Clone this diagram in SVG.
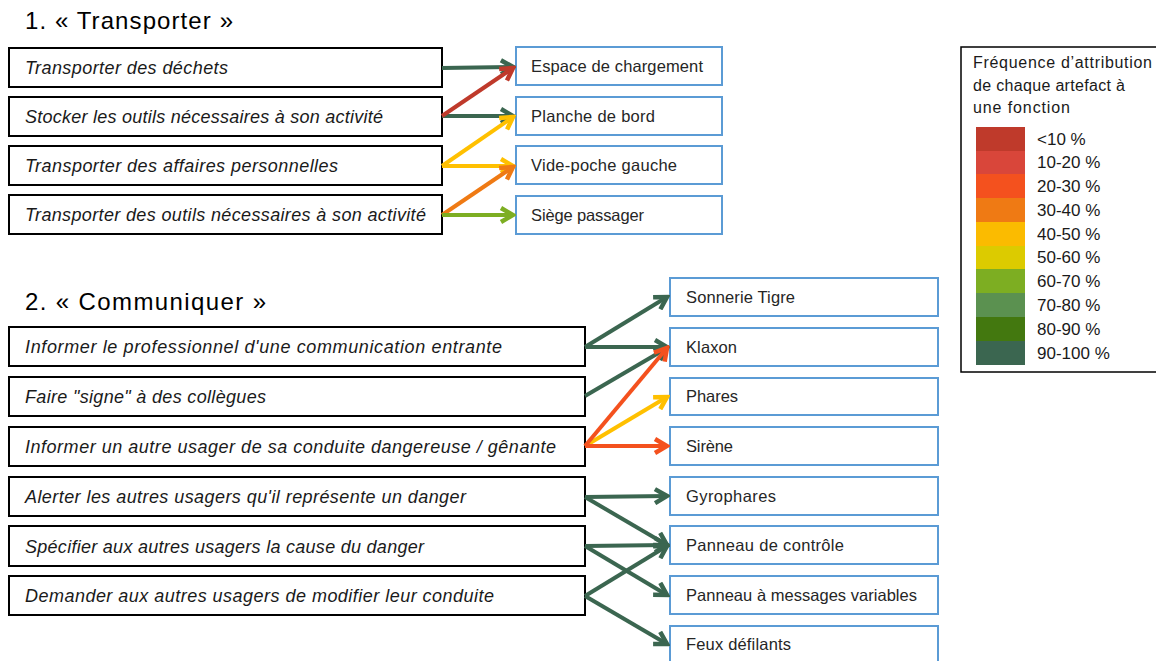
<svg xmlns="http://www.w3.org/2000/svg" width="1156" height="661" viewBox="0 0 1156 661">
<style>
.title{font-family:"Liberation Sans",Arial,sans-serif;font-size:24px;fill:#000}
.fn rect{fill:#fff;stroke:#000;stroke-width:2}
.fn text{font-family:"Liberation Sans",Arial,sans-serif;font-style:italic;font-size:18px;fill:#1a1a1a}
.art rect{fill:#fff;stroke:#5b9bd5;stroke-width:2}
.art text{font-family:"Liberation Sans",Arial,sans-serif;font-size:16.5px;fill:#262626}
.lg text{font-family:"Liberation Sans",Arial,sans-serif;font-size:16px;fill:#1a1a1a}
.lg text.p{font-size:17px}
.c line{stroke-width:4;fill:none}
.dg{stroke:#3b6650}
.rd{stroke:#bf3a2b}
.ye{stroke:#ffc000}
.or{stroke:#ef7a14}
.lgn{stroke:#7dae22}
.orr{stroke:#f4511e}
</style>
<defs>
<marker id="m-dg" viewBox="0 0 18 18" refX="15" refY="9" markerWidth="18" markerHeight="18" markerUnits="userSpaceOnUse" orient="auto"><path d="M3,2 L15,9 L3,16" fill="none" stroke="#3b6650" stroke-width="4.5"/></marker>
<marker id="m-rd" viewBox="0 0 18 18" refX="15" refY="9" markerWidth="18" markerHeight="18" markerUnits="userSpaceOnUse" orient="auto"><path d="M3,2 L15,9 L3,16" fill="none" stroke="#bf3a2b" stroke-width="4.5"/></marker>
<marker id="m-ye" viewBox="0 0 18 18" refX="15" refY="9" markerWidth="18" markerHeight="18" markerUnits="userSpaceOnUse" orient="auto"><path d="M3,2 L15,9 L3,16" fill="none" stroke="#ffc000" stroke-width="4.5"/></marker>
<marker id="m-or" viewBox="0 0 18 18" refX="15" refY="9" markerWidth="18" markerHeight="18" markerUnits="userSpaceOnUse" orient="auto"><path d="M3,2 L15,9 L3,16" fill="none" stroke="#ef7a14" stroke-width="4.5"/></marker>
<marker id="m-lgn" viewBox="0 0 18 18" refX="15" refY="9" markerWidth="18" markerHeight="18" markerUnits="userSpaceOnUse" orient="auto"><path d="M3,2 L15,9 L3,16" fill="none" stroke="#7dae22" stroke-width="4.5"/></marker>
<marker id="m-orr" viewBox="0 0 18 18" refX="15" refY="9" markerWidth="18" markerHeight="18" markerUnits="userSpaceOnUse" orient="auto"><path d="M3,2 L15,9 L3,16" fill="none" stroke="#f4511e" stroke-width="4.5"/></marker>
</defs>
<rect width="1156" height="661" fill="#fff"/>

<text class="title" x="25" y="29" textLength="208" lengthAdjust="spacing">1. « Transporter »</text>
<text class="title" x="25" y="310" textLength="241" lengthAdjust="spacing">2. « Communiquer »</text>

<!-- Section 1 functions -->
<g id="f1" class="fn"><rect x="9" y="48" width="433" height="39"/><text x="25" y="74" textLength="203" lengthAdjust="spacing">Transporter des déchets</text></g>
<g id="f2" class="fn"><rect x="9" y="97" width="433" height="39"/><text x="25" y="123" textLength="358" lengthAdjust="spacing">Stocker les outils nécessaires à son activité</text></g>
<g id="f3" class="fn"><rect x="9" y="146" width="433" height="39"/><text x="25" y="172" textLength="313" lengthAdjust="spacing">Transporter des affaires personnelles</text></g>
<g id="f4" class="fn"><rect x="9" y="195" width="433" height="39"/><text x="25" y="221" textLength="401" lengthAdjust="spacing">Transporter des outils nécessaires à son activité</text></g>

<!-- Section 1 artefacts -->
<g id="a1" class="art"><rect x="516" y="47" width="206" height="38"/><text x="531" y="72" textLength="172" lengthAdjust="spacing">Espace de chargement</text></g>
<g id="a2" class="art"><rect x="516" y="97" width="206" height="38"/><text x="531" y="122" textLength="124" lengthAdjust="spacing">Planche de bord</text></g>
<g id="a3" class="art"><rect x="516" y="146" width="206" height="38"/><text x="531" y="171" textLength="146" lengthAdjust="spacing">Vide-poche gauche</text></g>
<g id="a4" class="art"><rect x="516" y="196" width="206" height="38"/><text x="531" y="221" textLength="113" lengthAdjust="spacing">Siège passager</text></g>

<!-- Section 2 functions -->
<g id="f5" class="fn"><rect x="9" y="327" width="576" height="39"/><text x="25" y="353" textLength="477" lengthAdjust="spacing">Informer le professionnel d'une communication entrante</text></g>
<g id="f6" class="fn"><rect x="9" y="377" width="576" height="39"/><text x="25" y="403" textLength="241" lengthAdjust="spacing">Faire "signe" à des collègues</text></g>
<g id="f7" class="fn"><rect x="9" y="427" width="576" height="39"/><text x="25" y="453" textLength="531" lengthAdjust="spacing">Informer un autre usager de sa conduite dangereuse / gênante</text></g>
<g id="f8" class="fn"><rect x="9" y="477" width="576" height="39"/><text x="25" y="503" textLength="441" lengthAdjust="spacing">Alerter les autres usagers qu'il représente un danger</text></g>
<g id="f9" class="fn"><rect x="9" y="526" width="576" height="40"/><text x="25" y="553" textLength="399" lengthAdjust="spacing">Spécifier aux autres usagers la cause du danger</text></g>
<g id="f10" class="fn"><rect x="9" y="576" width="576" height="39"/><text x="25" y="602" textLength="469" lengthAdjust="spacing">Demander aux autres usagers de modifier leur conduite</text></g>

<!-- Section 2 artefacts -->
<g id="a5" class="art"><rect x="670" y="278" width="268" height="38"/><text x="686" y="303" textLength="109" lengthAdjust="spacing">Sonnerie Tigre</text></g>
<g id="a6" class="art"><rect x="670" y="328" width="268" height="38"/><text x="686" y="353" textLength="51" lengthAdjust="spacing">Klaxon</text></g>
<g id="a7" class="art"><rect x="670" y="378" width="268" height="37"/><text x="686" y="402" textLength="52" lengthAdjust="spacing">Phares</text></g>
<g id="a8" class="art"><rect x="670" y="427" width="268" height="38"/><text x="686" y="452" textLength="47" lengthAdjust="spacing">Sirène</text></g>
<g id="a9" class="art"><rect x="670" y="477" width="268" height="38"/><text x="686" y="502" textLength="90" lengthAdjust="spacing">Gyrophares</text></g>
<g id="a10" class="art"><rect x="670" y="526" width="268" height="38"/><text x="686" y="551" textLength="158" lengthAdjust="spacing">Panneau de contrôle</text></g>
<g id="a11" class="art"><rect x="670" y="576" width="268" height="38"/><text x="686" y="601" textLength="231" lengthAdjust="spacing">Panneau à messages variables</text></g>
<g id="a12" class="art"><rect x="670" y="626" width="268" height="38"/><text x="686" y="650" textLength="105" lengthAdjust="spacing">Feux défilants</text></g>

<!-- Connectors -->
<g id="connectors" class="c">
<line class="dg" x1="442" y1="68" x2="513" y2="67" marker-end="url(#m-dg)"/>
<line class="dg" x1="442" y1="116" x2="513" y2="116" marker-end="url(#m-dg)"/>
<line class="rd" x1="442" y1="116" x2="513" y2="68" marker-end="url(#m-rd)"/>
<line class="ye" x1="442" y1="166" x2="513" y2="117" marker-end="url(#m-ye)"/>
<line class="ye" x1="442" y1="166" x2="513" y2="166" marker-end="url(#m-ye)"/>
<line class="or" x1="442" y1="215" x2="513" y2="167" marker-end="url(#m-or)"/>
<line class="lgn" x1="442" y1="215" x2="513" y2="215" marker-end="url(#m-lgn)"/>

<line class="dg" x1="585" y1="347" x2="667" y2="297" marker-end="url(#m-dg)"/>
<line class="dg" x1="585" y1="347" x2="667" y2="347" marker-end="url(#m-dg)"/>
<line class="dg" x1="585" y1="396" x2="667" y2="348" marker-end="url(#m-dg)"/>
<line class="ye" x1="585" y1="446" x2="667" y2="397" marker-end="url(#m-ye)"/>
<line class="orr" x1="585" y1="446" x2="667" y2="348" marker-end="url(#m-orr)"/>
<line class="orr" x1="585" y1="446" x2="667" y2="446" marker-end="url(#m-orr)"/>

<line class="dg" x1="585" y1="497" x2="667" y2="496" marker-end="url(#m-dg)"/>
<line class="dg" x1="585" y1="497" x2="667" y2="545" marker-end="url(#m-dg)"/>
<line class="dg" x1="585" y1="546" x2="667" y2="545" marker-end="url(#m-dg)"/>
<line class="dg" x1="585" y1="546" x2="667" y2="595" marker-end="url(#m-dg)"/>
<line class="dg" x1="585" y1="596" x2="667" y2="546" marker-end="url(#m-dg)"/>
<line class="dg" x1="585" y1="596" x2="667" y2="644" marker-end="url(#m-dg)"/>
</g>

<!-- Legend -->
<g id="legend" class="lg">
<rect x="961" y="47" width="200" height="325" fill="#fff" stroke="#000" stroke-width="1.5"/>
<text x="973" y="68" textLength="179" lengthAdjust="spacing">Fréquence d’attribution</text>
<text x="973" y="91" textLength="152" lengthAdjust="spacing">de chaque artefact à</text>
<text x="973" y="113" textLength="97" lengthAdjust="spacing">une fonction</text>
<rect x="976" y="127" width="49" height="24" fill="#bf3a2b"/>
<rect x="976" y="151" width="49" height="23" fill="#d9463a"/>
<rect x="976" y="174" width="49" height="24" fill="#f4511e"/>
<rect x="976" y="198" width="49" height="24" fill="#ef7a14"/>
<rect x="976" y="222" width="49" height="24" fill="#fbbb00"/>
<rect x="976" y="246" width="49" height="23" fill="#dccb00"/>
<rect x="976" y="269" width="49" height="24" fill="#7dae22"/>
<rect x="976" y="293" width="49" height="24" fill="#5b9150"/>
<rect x="976" y="317" width="49" height="24" fill="#43780f"/>
<rect x="976" y="341" width="49" height="24" fill="#3b6650"/>
<text class="p" x="1037" y="145">&lt;10 %</text>
<text class="p" x="1037" y="168">10-20 %</text>
<text class="p" x="1037" y="192">20-30 %</text>
<text class="p" x="1037" y="216">30-40 %</text>
<text class="p" x="1037" y="240">40-50 %</text>
<text class="p" x="1037" y="263">50-60 %</text>
<text class="p" x="1037" y="287">60-70 %</text>
<text class="p" x="1037" y="311">70-80 %</text>
<text class="p" x="1037" y="335">80-90 %</text>
<text class="p" x="1037" y="359">90-100 %</text>
</g>
</svg>
